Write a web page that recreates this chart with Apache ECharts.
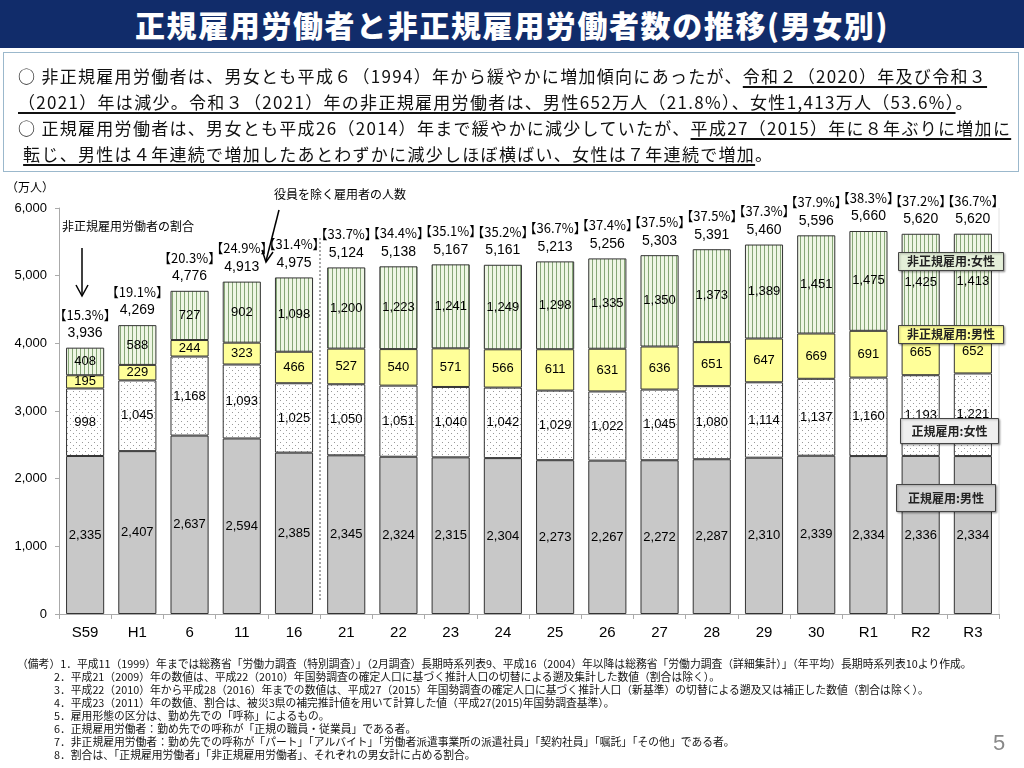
<!DOCTYPE html>
<html>
<head>
<meta charset="utf-8">
<script src="https://cdn.jsdelivr.net/npm/echarts@6/dist/echarts.min.js"></script>
<style>
body { margin: 0; width: 1024px; height: 768px; overflow: hidden; background: #fff;
  font-family: "Noto Sans CJK JP", "Liberation Sans", sans-serif; }
#chart { position: absolute; left: 0; top: 0; width: 1024px; height: 768px; }
#title { position: absolute; left: 0; top: 0; width: 1024px; height: 48px; background: #112c6a;
  color: #fff; font-size: 30px; font-weight: 900; text-align: center; line-height: 48px; letter-spacing: 1.6px; }
#box { position: absolute; left: 3px; top: 52px; width: 1014px; height: 118px; border: 1.5px solid #9bb8cc; }
.ln { position: absolute; left: 14px; white-space: nowrap; font-size: 17px; color: #111; letter-spacing: 1.3px; }
.ln u { text-decoration-thickness: 1.5px; text-underline-offset: 3px; }
#notes { position: absolute; left: 17px; top: 657px; font-size: 10.8px; line-height: 13px; color: #111; white-space: nowrap; }
#notes div { padding-left: 37px; }
#notes div.first { padding-left: 0; }
#page { position: absolute; left: 993px; top: 730px; font-size: 22px; color: #888; font-family: "Liberation Sans", sans-serif; }
</style>
</head>
<body>
<div id="chart"></div>
<div id="title">正規雇用労働者と非正規雇用労働者数の推移(男女別)</div>
<div id="box">
  <div class="ln" style="top:10px">○ 非正規雇用労働者は、男女とも平成６（1994）年から緩やかに増加傾向にあったが、<u>令和２（2020）年及び令和３</u></div>
  <div class="ln" style="top:36px"><u>（2021）年は減少。令和３（2021）年の非正規雇用労働者は、男性652万人（21.8%）、女性1,413万人（53.6%）</u>。</div>
  <div class="ln" style="top:62px">○ 正規雇用労働者は、男女とも平成26（2014）年まで緩やかに減少していたが、<u>平成27（2015）年に８年ぶりに増加に</u></div>
  <div class="ln" style="top:88px">&nbsp;<u>転じ、男性は４年連続で増加したあとわずかに減少しほぼ横ばい、女性は７年連続で増加</u>。</div>
</div>
<div id="notes">
  <div class="first">（備考）1．平成11（1999）年までは総務省「労働力調査（特別調査）」（2月調査）長期時系列表9、平成16（2004）年以降は総務省「労働力調査（詳細集計）」（年平均）長期時系列表10より作成。</div>
  <div>2．平成21（2009）年の数値は、平成22（2010）年国勢調査の確定人口に基づく推計人口の切替による遡及集計した数値（割合は除く）。</div>
  <div>3．平成22（2010）年から平成28（2016）年までの数値は、平成27（2015）年国勢調査の確定人口に基づく推計人口（新基準）の切替による遡及又は補正した数値（割合は除く）。</div>
  <div>4．平成23（2011）年の数値、割合は、被災3県の補完推計値を用いて計算した値（平成27(2015)年国勢調査基準）。</div>
  <div>5．雇用形態の区分は、勤め先での「呼称」によるもの。</div>
  <div>6．正規雇用労働者：勤め先での呼称が「正規の職員・従業員」である者。</div>
  <div>7．非正規雇用労働者：勤め先での呼称が「パート」「アルバイト」「労働者派遣事業所の派遣社員」「契約社員」「嘱託」「その他」である者。</div>
  <div>8．割合は、「正規雇用労働者」「非正規雇用労働者」、それぞれの男女計に占める割合。</div>
</div>
<div id="page">5</div>
<script>
var categories = ['S59', 'H1', '6', '11', '16', '21', '22', '23', '24', '25', '26', '27', '28', '29', '30', 'R1', 'R2', 'R3'];
var regularMale = [2335, 2407, 2637, 2594, 2385, 2345, 2324, 2315, 2304, 2273, 2267, 2272, 2287, 2310, 2339, 2334, 2336, 2334];
var regularFemale = [998, 1045, 1168, 1093, 1025, 1050, 1051, 1040, 1042, 1029, 1022, 1045, 1080, 1114, 1137, 1160, 1193, 1221];
var nonRegularMale = [195, 229, 244, 323, 466, 527, 540, 571, 566, 611, 631, 636, 651, 647, 669, 691, 665, 652];
var nonRegularFemale = [408, 588, 727, 902, 1098, 1200, 1223, 1241, 1249, 1298, 1335, 1350, 1373, 1389, 1451, 1475, 1425, 1413];
var totals = [3936, 4269, 4776, 4913, 4975, 5124, 5138, 5167, 5161, 5213, 5256, 5303, 5391, 5460, 5596, 5660, 5620, 5620];
var ratios = ['15.3', '19.1', '20.3', '24.9', '31.4', '33.7', '34.4', '35.1', '35.2', '36.7', '37.4', '37.5', '37.5', '37.3', '37.9', '38.3', '37.2', '36.7'];

// dotted fill for regular female
var dots = document.createElement('canvas');
dots.width = 6; dots.height = 6;
var ctx = dots.getContext('2d');
ctx.fillStyle = '#ffffff';
ctx.fillRect(0, 0, 6, 6);
ctx.fillStyle = '#999999';
ctx.fillRect(1, 1, 1, 1);
ctx.fillRect(4, 4, 1, 1);

// vertical stripes for non-regular female
var stripes = document.createElement('canvas');
stripes.width = 4; stripes.height = 4;
ctx = stripes.getContext('2d');
ctx.fillStyle = '#eef6e4';
ctx.fillRect(0, 0, 4, 4);
ctx.fillStyle = '#86a676';
ctx.fillRect(0, 0, 1, 4);

function fmt(v) {
    return v.toLocaleString('en-US');
}

var labelFont = {
    show: true,
    position: 'inside',
    color: '#000',
    fontSize: 13,
    fontFamily: 'Liberation Sans',
    formatter: function (p) { return fmt(p.value); }
};

function barSeries(name, data, color) {
    return {
        name: name,
        type: 'bar',
        stack: 'all',
        barWidth: '73%',
        data: data,
        itemStyle: { color: color, borderColor: '#333', borderWidth: 1 },
        label: labelFont
    };
}

function box(left, top, w, h, text, fill) {
    return { type: 'group', left: left, top: top, z: 100, children: [
        { type: 'rect', z: 100, shape: { width: w, height: h },
          style: { fill: fill, stroke: '#444', lineWidth: 1, shadowBlur: 2, shadowColor: 'rgba(0,0,0,0.3)', shadowOffsetX: 1, shadowOffsetY: 1 } },
        { type: 'text', z: 101, x: w / 2, y: h / 2,
          style: { text: text, fontSize: 12, fontWeight: 'bold', fill: '#222', align: 'center', verticalAlign: 'middle', fontFamily: 'Noto Sans CJK JP' } }
    ] };
}

var chart = echarts.init(document.getElementById('chart'));
var option = {
    animation: false,
    grid: { left: 59, right: 25, top: 208, bottom: 154 },
    xAxis: {
        type: 'category',
        data: categories,
        axisLine: { lineStyle: { color: '#aaa' } },
        axisTick: { show: true, length: 5, lineStyle: { color: '#aaa' } },
        axisLabel: { color: '#000', fontSize: 15, fontFamily: 'Liberation Sans', margin: 11 }
    },
    yAxis: {
        type: 'value',
        min: 0,
        max: 6000,
        interval: 1000,
        splitLine: { show: false },
        axisLine: { show: true, lineStyle: { color: '#aaa' } },
        axisTick: { show: true, length: 4, lineStyle: { color: '#aaa' } },
        axisLabel: { color: '#000', fontSize: 13, fontFamily: 'Liberation Sans', margin: 12,
            formatter: function (v) { return fmt(v); } }
    },
    series: [
        barSeries('正規雇用:男性', regularMale, '#c8c8c8'),
        barSeries('正規雇用:女性', regularFemale, { image: dots, repeat: 'repeat' }),
        barSeries('非正規雇用:男性', nonRegularMale, '#ffff99'),
        barSeries('非正規雇用:女性', nonRegularFemale, { image: stripes, repeat: 'repeat' }),
        {
            name: '合計',
            type: 'line',
            data: totals,
            symbol: 'circle',
            symbolSize: 1,
            itemStyle: { color: 'rgba(0,0,0,0)' },
            lineStyle: { width: 0, opacity: 0 },
            z: 10,
            label: {
                show: true,
                position: 'top',
                distance: 5,
                formatter: function (p) {
                    return '{p|【' + ratios[p.dataIndex] + '%】}\n{t|' + fmt(p.value) + '}';
                },
                rich: {
                    p: { fontSize: 13, color: '#000', fontFamily: 'Noto Sans CJK JP', lineHeight: 19 },
                    t: { fontSize: 14, color: '#000', fontFamily: 'Liberation Sans', lineHeight: 18 }
                }
            }
        }
    ],
    graphic: [
        { type: 'text', left: 6, top: 181, style: { text: '（万人）', fontSize: 12, fill: '#000', fontFamily: 'Noto Sans CJK JP' } },
        { type: 'line', shape: { x1: 320, y1: 238, x2: 320, y2: 602 }, style: { stroke: '#555', lineWidth: 1, lineDash: [2, 2] } },
        { type: 'line', shape: { x1: 999, y1: 208, x2: 999, y2: 614 }, style: { stroke: '#e2e2e2', lineWidth: 1 } },
        { type: 'text', left: 62, top: 220, style: { text: '非正規雇用労働者の割合', fontSize: 12, fill: '#000', fontFamily: 'Noto Sans CJK JP' } },
        { type: 'line', shape: { x1: 82, y1: 248, x2: 82, y2: 295 }, style: { stroke: '#000', lineWidth: 1.5 } },
        { type: 'polyline', shape: { points: [[76, 285], [82, 296], [88, 285]] }, style: { stroke: '#000', lineWidth: 1.5, fill: null } },
        { type: 'text', left: 274, top: 188, style: { text: '役員を除く雇用者の人数', fontSize: 12, fill: '#000', fontFamily: 'Noto Sans CJK JP' } },
        { type: 'line', shape: { x1: 279, y1: 210, x2: 266, y2: 261 }, style: { stroke: '#000', lineWidth: 1.5 } },
        { type: 'polyline', shape: { points: [[262, 250], [266, 262], [273, 252]] }, style: { stroke: '#000', lineWidth: 1.5, fill: null } },
        box(898, 252, 105, 18, '非正規雇用:女性', '#e4efd9'),
        box(898, 325, 105, 18, '非正規雇用:男性', '#ffff99'),
        box(900, 418, 98, 25, '正規雇用:女性', '#efefef'),
        box(896, 484, 99, 27, '正規雇用:男性', '#d2d2d2')
    ]
};
chart.setOption(option);
</script>
</body>
</html>
